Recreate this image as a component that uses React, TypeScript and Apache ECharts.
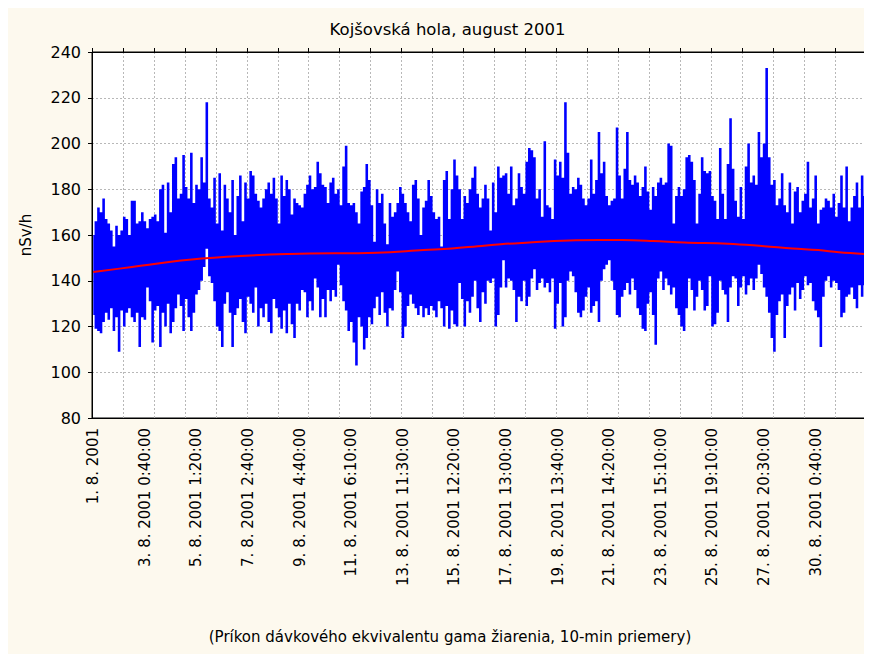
import React, { useEffect, useRef } from "react";
import * as echarts from "echarts";

const chartTitle = "Kojšovská hola, august 2001";
const caption = "(Príkon dávkového ekvivalentu gama žiarenia, 10-min priemery)";
const yName = "nSv/h";

const tickLabels = [
  "1. 8. 2001",
  "3. 8. 2001 0:40:00",
  "5. 8. 2001 1:20:00",
  "7. 8. 2001 2:40:00",
  "9. 8. 2001 4:40:00",
  "11. 8. 2001 6:10:00",
  "13. 8. 2001 11:30:00",
  "15. 8. 2001 12:20:00",
  "17. 8. 2001 13:00:00",
  "19. 8. 2001 13:40:00",
  "21. 8. 2001 14:20:00",
  "23. 8. 2001 15:10:00",
  "25. 8. 2001 19:10:00",
  "27. 8. 2001 20:30:00",
  "30. 8. 2001 0:40:00",
];
const slotsPerLabel = 20;
const slotsPerGrid = 12;

// per-column maximum of the 10-min averages (nSv/h)
const hi = [
  160,166,172,170,176,167,165,162,155,164,
  160,162,168,167,160,175,175,165,166,170,
  166,163,167,168,169,166,180,182,161,183,
  170,191,194,176,178,195,181,176,196,174,
  182,180,194,183,218,176,172,185,165,187,
  162,182,176,170,184,160,177,186,166,183,
  176,188,186,178,175,172,176,180,183,178,
  185,176,165,186,177,184,180,
  169,176,174,173,172,178,182,186,180,181,
  192,187,182,181,174,183,185,178,180,173,
  190,199,174,173,174,170,165,179,181,191,
  184,173,157,180,174,178,165,156,174,168,
  170,174,181,178,174,170,166,182,184,176,
  160,172,175,184,177,170,167,168,155,184,
  188,167,180,193,186,180,167,177,174,180,
  185,190,178,172,176,182,
  176,162,183,170,190,185,186,187,178,190,
  173,176,187,181,178,192,198,197,194,176,
  180,168,201,173,172,167,193,186,192,185,
  218,196,178,181,180,185,182,176,173,176,
  193,178,184,205,187,192,177,173,175,176,
  207,186,176,189,205,184,182,186,183,177,
  181,190,179,171,181,177,183,185,182,183,
  200,199,165,177,181,177,
  180,194,195,192,184,165,178,194,188,187,
  188,177,175,167,198,178,167,191,211,189,
  175,168,181,167,190,200,183,186,182,205,
  194,200,233,194,182,184,173,176,187,173,
  170,183,165,179,181,170,175,178,192,172,
  176,186,165,171,172,176,175,172,178,168,
  174,186,172,190,166,172,177,183,172,186,
  177,
];

// per-column minimum of the 10-min averages (nSv/h)
const lo = [
  125,119,118,117,122,126,123,128,118,124,
  109,127,120,126,128,124,122,126,111,124,
  123,137,131,113,127,129,111,126,120,130,
  117,122,128,134,129,118,132,124,118,126,
  134,136,140,146,154,142,139,131,120,118,
  111,130,135,126,111,125,128,132,122,117,
  133,130,126,137,120,128,124,130,122,117,
  132,128,124,119,127,117,130,
  121,115,130,127,136,135,124,131,127,141,
  137,124,132,124,136,131,136,133,147,138,
  131,127,118,122,113,103,124,120,110,115,
  124,121,128,133,125,135,126,120,128,127,
  136,144,135,115,120,129,134,130,128,125,
  129,124,128,125,129,127,124,131,128,120,
  129,119,127,121,120,139,132,120,131,126,
  133,140,128,122,135,130,
  140,139,141,120,125,137,149,137,141,140,
  136,122,133,131,140,129,133,141,145,136,
  139,141,137,139,135,141,119,130,139,120,
  124,140,144,142,135,126,124,127,133,137,
  126,129,131,122,140,145,147,149,140,136,
  125,124,133,136,139,134,141,136,128,125,
  119,118,130,135,125,112,141,144,136,141,
  138,134,137,128,125,120,
  118,128,141,136,127,133,140,136,127,129,
  142,120,121,126,140,136,134,122,137,142,
  141,129,137,142,134,138,141,136,141,147,
  143,137,133,126,115,109,125,131,134,115,
  129,134,137,127,139,132,136,142,138,139,
  131,127,124,111,133,140,142,137,140,139,
  136,124,126,133,134,137,132,128,138,133,
  138,
];

// red trend curve, read at these column positions
const trendSlots = [0, 15, 42, 76, 110, 128, 139, 149, 158, 169, 187, 205, 217, 229, 246, 260, 271, 281, 289, 299];
const trendValues = [143.8, 146, 149.7, 151.7, 152.2, 153.4, 154.1, 155.1, 156, 156.7, 157.7, 157.8, 157.4, 156.7, 156.2, 155.1, 154.1, 153.4, 152.5, 151.7];

export default function App() {
  const ref = useRef<HTMLDivElement>(null);
  useEffect(() => {
    const chart = echarts.init(ref.current!, null, { renderer: "svg" });
    const cats = hi.map((_, i) => String(i));
    const band = hi.map((h, i) => h - lo[i]);
    const font = "DejaVu Sans";
    const gridLine = { show: true, lineStyle: { color: "#b8b8b8", type: [2, 2], width: 1 } };
    chart.setOption({
      animation: false,
      backgroundColor: "#fdf9ee",
      textStyle: { fontFamily: font, color: "#000" },
      graphic: [
        {
          type: "text",
          x: 439.5,
          y: 21,
          style: { text: chartTitle, fill: "#000", fontFamily: font, fontSize: 16.5, align: "center", verticalAlign: "middle" },
        },
        {
          type: "text",
          x: 442,
          y: 629,
          style: { text: caption, fill: "#000", fontFamily: font, fontSize: 15, align: "center", verticalAlign: "middle" },
        },
      ],
      grid: { left: 84, top: 44, right: 6, bottom: 236, show: true, backgroundColor: "#ffffff", borderColor: "#000", borderWidth: 1 },
      xAxis: [
        {
          type: "category",
          data: cats,
          boundaryGap: true,
          axisLine: { show: true, lineStyle: { color: "#000", width: 1 } },
          axisTick: { show: false },
          axisLabel: {
            interval: slotsPerLabel - 1,
            rotate: 90,
            margin: 10,
            fontSize: 15,
            fontFamily: font,
            color: "#000",
            formatter: (_v: string, i: number) => (i % slotsPerLabel === 0 ? tickLabels[i / slotsPerLabel] ?? "" : ""),
          },
          splitLine: { ...gridLine, interval: slotsPerGrid - 1 },
        },
        {
          type: "category",
          data: cats,
          boundaryGap: true,
          position: "top",
          axisLine: { show: true, lineStyle: { color: "#000", width: 1 } },
          axisTick: { show: true, interval: slotsPerGrid - 1, length: 4, inside: false, lineStyle: { color: "#000" } },
          axisLabel: { show: false },
          splitLine: { show: false },
        },
      ],
      yAxis: [
        {
          type: "value",
          min: 80,
          max: 240,
          interval: 20,
          name: yName,
          nameLocation: "middle",
          nameGap: 59,
          nameTextStyle: { fontFamily: font, fontSize: 15, color: "#000" },
          axisLine: { show: true, lineStyle: { color: "#000", width: 1 } },
          axisTick: { show: true, length: 4, inside: false, lineStyle: { color: "#000" } },
          axisLabel: { margin: 11, fontSize: 16, fontFamily: font, color: "#000" },
          splitLine: gridLine,
        },
        {
          type: "value",
          min: 80,
          max: 240,
          interval: 20,
          position: "right",
          axisLine: { show: true, lineStyle: { color: "#000", width: 1 } },
          axisTick: { show: true, length: 4, inside: false, lineStyle: { color: "#000" } },
          axisLabel: { show: false },
          splitLine: { show: false },
        },
      ],
      series: [
        {
          type: "line",
          stack: "col",
          step: "middle",
          data: lo,
          showSymbol: false,
          silent: true,
          lineStyle: { width: 0, opacity: 0 },
        },
        {
          type: "line",
          stack: "col",
          step: "middle",
          data: band,
          showSymbol: false,
          silent: true,
          lineStyle: { color: "#0000ff", width: 0, opacity: 0 },
          areaStyle: { color: "#0000ff", opacity: 1 },
        },
        {
          type: "line",
          data: trendSlots.map((s, i) => [s, trendValues[i]]),
          smooth: 0.4,
          showSymbol: false,
          silent: true,
          z: 5,
          lineStyle: { color: "#ff0000", width: 2 },
        },
      ],
    });
    return () => chart.dispose();
  }, []);
  return <div ref={ref} style={{ width: 864, height: 646 }} />;
}
